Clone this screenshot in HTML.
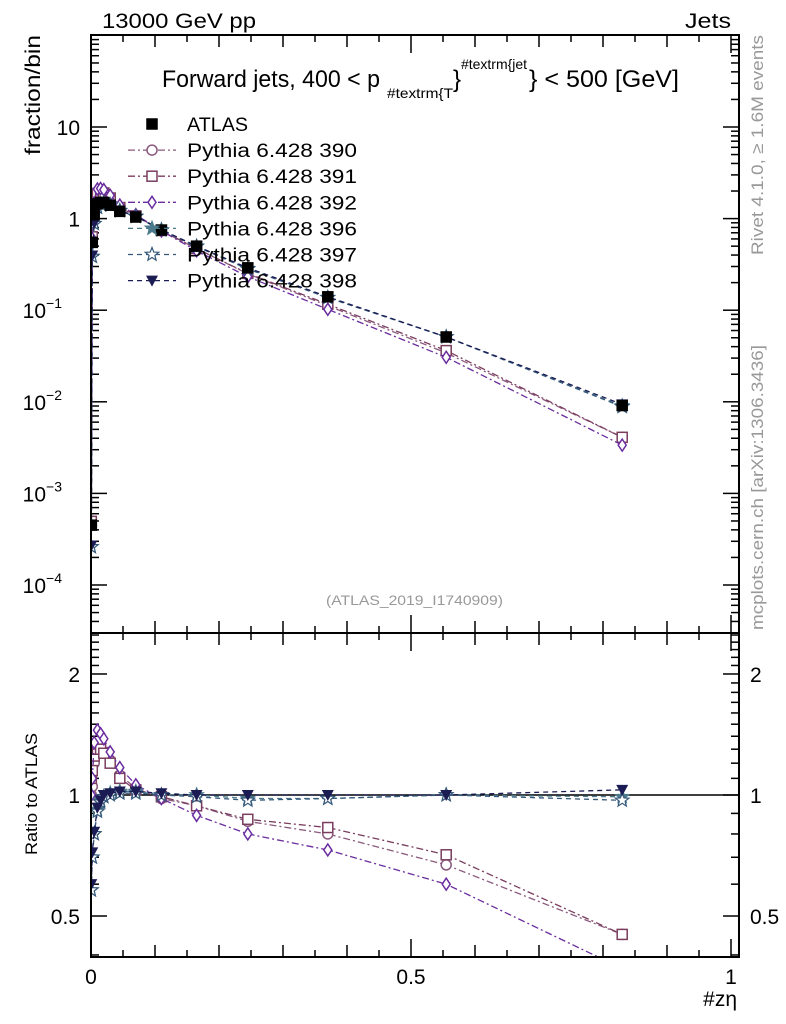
<!DOCTYPE html>
<html><head><meta charset="utf-8"><style>
html,body{margin:0;padding:0;background:#fff}
svg{display:block;font-family:"Liberation Sans",sans-serif}
</style></head><body>
<svg id="chart" width="786" height="1024" viewBox="0 0 786 1024" xmlns="http://www.w3.org/2000/svg">
<defs>
<clipPath id="cm"><rect x="91" y="35" width="648" height="598"/></clipPath>
<clipPath id="cr"><rect x="91" y="633" width="648" height="324"/></clipPath>
</defs>
<text x="102" y="28" font-size="21" textLength="154" lengthAdjust="spacingAndGlyphs">13000 GeV pp</text>
<text x="685" y="28" font-size="21" textLength="46" lengthAdjust="spacingAndGlyphs">Jets</text>
<g font-size="24">
<text x="162" y="87" textLength="218" lengthAdjust="spacingAndGlyphs">Forward jets, 400 &lt; p</text>
<text x="387" y="98" font-size="14" textLength="66" lengthAdjust="spacingAndGlyphs">#textrm{T</text>
<text x="453" y="87">}</text>
<text x="461" y="69" font-size="14" textLength="66" lengthAdjust="spacingAndGlyphs">#textrm{jet</text>
<text x="529" y="87" textLength="150" lengthAdjust="spacingAndGlyphs">} &lt; 500 [GeV]</text>
</g>
<text transform="translate(40,35) rotate(-90)" font-size="21" text-anchor="end" textLength="120" lengthAdjust="spacingAndGlyphs">fraction/bin</text>
<text transform="translate(37,855) rotate(-90)" font-size="17" textLength="122" lengthAdjust="spacingAndGlyphs">Ratio to ATLAS</text>
<text x="737" y="1006" font-size="21" text-anchor="end">#zη</text>
<text transform="translate(763,255) rotate(-90)" font-size="17" fill="#999" textLength="220" lengthAdjust="spacingAndGlyphs">Rivet 4.1.0, ≥ 1.6M events</text>
<text transform="translate(763,630) rotate(-90)" font-size="17" fill="#999" textLength="285" lengthAdjust="spacingAndGlyphs">mcplots.cern.ch [arXiv:1306.3436]</text>
<text x="326" y="605" font-size="14" fill="#999" textLength="177" lengthAdjust="spacingAndGlyphs">(ATLAS_2019_I1740909)</text>
<g id="ticks"></g>
<g id="plots"></g>
<g id="legend"></g>
<rect x="91" y="35" width="648" height="598" fill="none" stroke="#000" stroke-width="2"/>
<rect x="91" y="633" width="648" height="324" fill="none" stroke="#000" stroke-width="2"/>
</svg>
<script>
const xVals=[0.0005,0.002,0.005,0.01,0.015,0.02,0.03,0.045,0.07,0.11,0.165,0.245,0.37,0.555,0.83];
const atlasVals=[4.5e-4,0.55,1.1,1.45,1.5,1.5,1.4,1.2,1.04,0.75,0.5,0.29,0.14,0.051,0.0091];
const r390=[1.0,1.05,1.2,1.28,1.3,1.28,1.22,1.12,1.04,0.98,0.94,0.86,0.80,0.67,0.45];
const r391=[1.1,1.15,1.25,1.3,1.3,1.27,1.2,1.1,1.03,0.99,0.94,0.87,0.83,0.71,0.45];
const r392=[1.0,1.1,1.35,1.45,1.42,1.38,1.28,1.17,1.06,0.98,0.89,0.80,0.73,0.60,0.37];
const r396=[0.58,0.70,0.80,0.92,0.97,0.99,1.01,1.02,1.02,1.0,1.0,0.98,0.98,1.0,0.99];
const r397=[0.58,0.70,0.80,0.91,0.96,0.99,1.0,1.01,1.01,1.0,0.99,0.97,0.98,1.0,0.97];
const r398=[0.60,0.72,0.81,0.93,0.97,1.0,1.01,1.02,1.02,1.01,1.0,1.0,1.0,1.0,1.03];
const seriesNames=["390","391","392","396","397","398"];
const mainTickLabels=["10","1","10","10","10","10"];
const mainTickExp=[null,null,"−1","−2","−3","−4"];
const ratioTickVals=[2,1,0.5];
const xTickLabels=["0","0.5","1"];

const NS="http://www.w3.org/2000/svg";
const X=v=>91+v*640;
const Y=v=>218.6-Math.log10(v)*91.6;
const R=v=>795-Math.log10(v)*402;
function mk(t,a,p){const e=document.createElementNS(NS,t);for(const k in a)e.setAttribute(k,a[k]);p.appendChild(e);return e;}
const tk=document.getElementById('ticks'),pl=document.getElementById('plots'),lg=document.getElementById('legend');

for(let k=-5;k<=1;k++){
  for(let m=1;m<10;m++){
    const v=m*Math.pow(10,k);const y=Y(v);if(y<35||y>633)continue;
    const L=m==1?16:8;
    let t=mk('line',{x1:91,x2:91+L,y1:y,y2:y,stroke:'#000','stroke-width':1.5},tk);
    
    t=mk('line',{x1:739,x2:739-L,y1:y,y2:y,stroke:'#000','stroke-width':1.5},tk);
    
  }
}
for(let k=1;k>=-4;k--){
  const i=1-k;const t=mk('text',{x:80,y:Y(Math.pow(10,k))+8,'font-size':21,'text-anchor':'end'},tk);
  
  t.textContent=mainTickLabels[i];
  if(mainTickExp[i]){t.setAttribute('x',62);const s=mk('tspan',{'font-size':14,dy:-10},t);s.textContent=mainTickExp[i];}
}
const rMinor=[0.4,0.5,0.6,0.7,0.8,0.9,1,1.1,1.2,1.3,1.4,1.5,1.6,1.7,1.8,1.9,2,2.1,2.2,2.3,2.4,2.5];
rMinor.forEach(v=>{const y=R(v);if(y<633||y>957)return;const L=(v==1||v==2||v==0.5)?16:8;
  let t=mk('line',{x1:91,x2:91+L,y1:y,y2:y,stroke:'#000','stroke-width':1.5},tk);
  
  t=mk('line',{x1:739,x2:739-L,y1:y,y2:y,stroke:'#000','stroke-width':1.5},tk);
  });
ratioTickVals.forEach(v=>{
  let t=mk('text',{x:80,y:R(v)+8,'font-size':21,'text-anchor':'end'},tk);t.textContent=String(v);
  
  t=mk('text',{x:750,y:R(v)+8,'font-size':21},tk);t.textContent=String(v);
  });
for(let i=0;i<=20;i++){const v=i*0.05,x=X(v);const L=i%10==0?18:(i%2==0?12:7);
  [[35,1],[633,-1],[633,1],[957,-1]].forEach(([y0,d])=>{
    const t=mk('line',{x1:x,x2:x,y1:y0,y2:y0+d*L,stroke:'#000','stroke-width':1.5},tk);
    });}
xTickLabels.forEach((s,i)=>{const t=mk('text',{x:X(i*0.5),y:984,'font-size':21,'text-anchor':'middle'},tk);t.textContent=s;
  });
let ref=mk('line',{x1:91,x2:739,y1:R(1),y2:R(1),stroke:'#000','stroke-width':1.5},pl);


const ratios=[r390,r391,r392,r396,r397,r398];
const colors=['#8a5a7e','#7a3d5e','#6a2d9e','#4a7a8c','#35587a','#1c1c55'];
const dashes=['7,3,2,3','7,3,2,3','7,3,2,3','5,4','5,4','5,4'];
const markers=['circle','square','diamond','star','ostar','tri'];
function marker(type,x,y,c,g){
  const s=5;
  if(type=='circle')return mk('circle',{cx:x,cy:y,r:s,fill:'#fff',stroke:c,'stroke-width':1.5},g);
  if(type=='square'||type=='fsquare')return mk('rect',{x:x-s,y:y-s,width:2*s,height:2*s,fill:type=='fsquare'?c:'#fff',stroke:c,'stroke-width':1.5},g);
  if(type=='diamond')return mk('polygon',{points:`${x},${y-6} ${x+4},${y} ${x},${y+6} ${x-4},${y}`,fill:'#fff',stroke:c,'stroke-width':1.5},g);
  if(type=='tri')return mk('polygon',{points:`${x-6},${y-5} ${x+6},${y-5} ${x},${y+6}`,fill:c},g);
  let p=[];for(let i=0;i<10;i++){const a=-Math.PI/2+i*Math.PI/5,r=i%2?3:7;p.push((x+r*Math.cos(a)).toFixed(1)+','+(y+r*Math.sin(a)).toFixed(1));}
  return mk('polygon',{points:p.join(' '),fill:type=='star'?c:'#fff',stroke:c,'stroke-width':1.2},g);
}
ratios.forEach((r,si)=>{
  const g=mk('g',{},pl);
  
  const gm=mk('g',{'clip-path':'url(#cm)'},g);
  const gr=mk('g',{'clip-path':'url(#cr)'},g);
  const mp=xVals.map((x,i)=>X(x)+','+Y(atlasVals[i]*r[i])).join(' ');
  let l=mk('polyline',{points:mp,fill:'none',stroke:colors[si],'stroke-width':1.3,'stroke-dasharray':dashes[si]},gm);
  
  const rp=xVals.map((x,i)=>X(x)+','+R(r[i])).join(' ');
  l=mk('polyline',{points:rp,fill:'none',stroke:colors[si],'stroke-width':1.3,'stroke-dasharray':dashes[si]},gr);
  
  xVals.forEach((x,i)=>{
    let m=marker(markers[si],X(x),Y(atlasVals[i]*r[i]),colors[si],gm);
    
    m=marker(markers[si],X(x),R(r[i]),colors[si],gr);
    
  });
});
const ga=mk('g',{'clip-path':'url(#cm)'},pl);
xVals.forEach((x,i)=>{const m=marker('fsquare',X(x),Y(atlasVals[i]),'#000',ga);
  });
const labels=['ATLAS','Pythia 6.428 390','Pythia 6.428 391','Pythia 6.428 392','Pythia 6.428 396','Pythia 6.428 397','Pythia 6.428 398'];
const labelLen=[61,170,170,170,170,170,170];
labels.forEach((s,i)=>{const y=124+i*26.1;const g=mk('g',{},lg);
  
  if(i>0){mk('line',{x1:128,x2:176,y1:y,y2:y,stroke:colors[i-1],'stroke-width':1.3,'stroke-dasharray':dashes[i-1]},g);marker(markers[i-1],152,y,colors[i-1],g);}
  else marker('fsquare',152,y,'#000',g);
  const t=mk('text',{x:187,y:y+7,'font-size':19,textLength:labelLen[i],lengthAdjust:'spacingAndGlyphs'},g);t.textContent=s;});
</script>
</body></html>
